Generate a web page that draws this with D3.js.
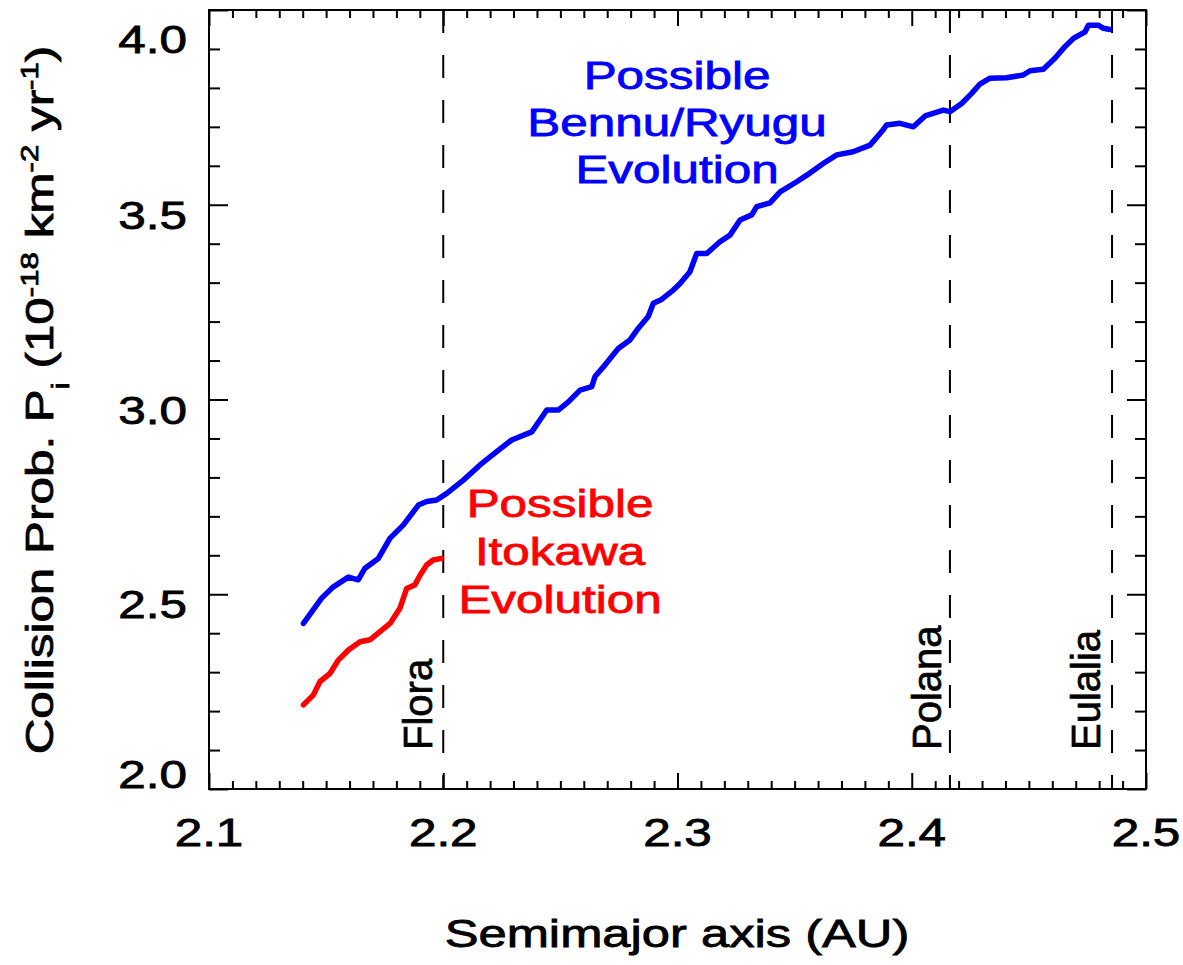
<!DOCTYPE html>
<html><head><meta charset="utf-8">
<script src="https://cdn.jsdelivr.net/npm/d3@7"></script>
<style>body{margin:0;background:#fff} svg{display:block}</style>
</head><body><svg id="c" width="1183" height="965"></svg>
<script>
// ---- data ----
const blueA = [2.1403,2.1481,2.1531,2.1595,2.1637,2.1666,2.1723,2.1773,2.1830,2.1894,2.1929,2.1972,2.2015,2.2086,2.2157,2.2228,2.2292,2.2378,2.2442,2.2491,2.2534,2.2584,2.2634,2.2648,2.2691,2.2747,2.2797,2.2833,2.2875,2.2897,2.2932,2.2982,2.3011,2.3053,2.3082,2.3125,2.3181,2.3224,2.3267,2.3317,2.3338,2.3395,2.3438,2.3509,2.3552,2.3622,2.3680,2.3750,2.3822,2.3872,2.3893,2.3950,2.4007,2.4057,2.4135,2.4163,2.4213,2.4256,2.4291,2.4334,2.4405,2.4476,2.4505,2.4562,2.4611,2.4654,2.4690,2.4740,2.4754,2.4796,2.4818,2.4846];
const blueP = [2.425,2.490,2.519,2.544,2.537,2.567,2.592,2.644,2.678,2.729,2.738,2.742,2.759,2.793,2.832,2.866,2.896,2.917,2.973,2.973,2.994,3.024,3.033,3.059,3.089,3.131,3.153,3.183,3.213,3.247,3.257,3.281,3.298,3.328,3.375,3.375,3.405,3.422,3.461,3.474,3.495,3.505,3.533,3.559,3.576,3.606,3.628,3.636,3.653,3.688,3.705,3.709,3.700,3.728,3.743,3.739,3.760,3.786,3.810,3.825,3.826,3.833,3.844,3.848,3.876,3.906,3.927,3.944,3.961,3.961,3.953,3.950];
const redA = [2.1403,2.1445,2.1474,2.1517,2.1552,2.1595,2.1645,2.1687,2.1730,2.1773,2.1815,2.1844,2.1879,2.1901,2.1929,2.1957,2.1993];
const redP = [2.216,2.241,2.276,2.297,2.331,2.357,2.378,2.383,2.404,2.425,2.464,2.515,2.524,2.549,2.575,2.588,2.592];
const xTicks = [2.1,2.2,2.3,2.4,2.5];
const xTickLabels = ["2.1","2.2","2.3","2.4","2.5"];
const yTicks = [2.0,2.5,3.0,3.5,4.0];
const yTickLabels = ["2.0","2.5","3.0","3.5","4.0"];
const familyNames = ["Flora","Polana","Eulalia"];
const familyA = [2.2,2.4163,2.4855];
const blueText = ["Possible","Bennu/Ryugu","Evolution"];
const redText = ["Possible","Itokawa","Evolution"];
const xTitle = "Semimajor axis (AU)";

// ---- layout ----
const L=209,R=1146,T=10,B=789;
const FONT="'Liberation Sans', Arial, Helvetica, sans-serif";
const SX=1.3;
const svg=d3.select("#c");
const x=d3.scaleLinear().domain([2.1,2.5]).range([L,R]);
const y=d3.scaleLinear().domain([2.0,4.0]).range([B,T]);

const xMinor=d3.range(210,251).map(d=>d/100).filter(d=>Math.abs(d*10-Math.round(d*10))>1e-6);
const yMinor=d3.range(20,41).map(d=>d/10).filter(d=>Math.abs(d*2-Math.round(d*2))>1e-6);

function styleAxis(g){g.select(".domain").remove();g.selectAll("line").attr("stroke","#000").attr("stroke-width",2);g.selectAll("text").remove();}
// bottom
svg.append("g").attr("transform",`translate(0,${B})`).call(d3.axisTop(x).tickValues(xMinor).tickSize(8)).call(styleAxis);
svg.append("g").attr("transform",`translate(0,${B})`).call(d3.axisTop(x).tickValues(xTicks).tickSize(16)).call(styleAxis);
// top
svg.append("g").attr("transform",`translate(0,${T})`).call(d3.axisBottom(x).tickValues(xMinor).tickSize(8)).call(styleAxis);
svg.append("g").attr("transform",`translate(0,${T})`).call(d3.axisBottom(x).tickValues(xTicks).tickSize(16)).call(styleAxis);
// left
svg.append("g").attr("transform",`translate(${L},0)`).call(d3.axisRight(y).tickValues(yMinor).tickSize(11)).call(styleAxis);
svg.append("g").attr("transform",`translate(${L},0)`).call(d3.axisRight(y).tickValues(yTicks).tickSize(19)).call(styleAxis);
// right
svg.append("g").attr("transform",`translate(${R},0)`).call(d3.axisLeft(y).tickValues(yMinor).tickSize(11)).call(styleAxis);
svg.append("g").attr("transform",`translate(${R},0)`).call(d3.axisLeft(y).tickValues(yTicks).tickSize(19)).call(styleAxis);

// frame
svg.append("rect").attr("x",L).attr("y",T).attr("width",R-L).attr("height",B-T)
  .attr("fill","none").attr("stroke","#000").attr("stroke-width",2);

// dashed family lines
svg.selectAll(".fam").data(familyA).join("line").attr("class","fam")
  .attr("x1",d=>x(d)).attr("x2",d=>x(d)).attr("y1",T).attr("y2",B)
  .attr("stroke","#000").attr("stroke-width",2).attr("stroke-dasharray","23 22");

// family labels
const famX=[432,941,1100];
svg.selectAll(".famlab").data(familyNames).join("text").attr("class","famlab")
  .attr("transform",(d,i)=>`translate(${famX[i]},750) rotate(-90)`)
  .attr("font-family",FONT).attr("font-size",40).attr("fill","#000")
  .attr("stroke","#000").attr("stroke-width",0.7).text(d=>d);

// lines
const line=d3.line().x(d=>x(d[0])).y(d=>y(d[1]));
svg.append("path").datum(blueA.map((a,i)=>[a,blueP[i]])).attr("d",line)
  .attr("fill","none").attr("stroke","#0000ff").attr("stroke-width",5.5).attr("stroke-linejoin","round").attr("stroke-linecap","round");
svg.append("path").datum(redA.map((a,i)=>[a,redP[i]])).attr("d",line)
  .attr("fill","none").attr("stroke","#ff0000").attr("stroke-width",5.5).attr("stroke-linejoin","round").attr("stroke-linecap","round");

// text helper
function heavy(sel,col){return sel.attr("font-family",FONT).attr("fill",col).attr("stroke",col).attr("stroke-width",0.8);}

// tick labels
heavy(svg.selectAll(".xl").data(xTicks).join("text").attr("class","xl")
  .attr("transform",d=>`translate(${x(d)},846) scale(${SX},1)`)
  .attr("text-anchor","middle").attr("font-size",38).text((d,i)=>xTickLabels[i]),"#000");
heavy(svg.selectAll(".yl").data(yTicks).join("text").attr("class","yl")
  .attr("transform",d=>`translate(187,${Math.max(T+43,Math.min(B-1,y(d)+24))}) scale(${SX},1)`)
  .attr("text-anchor","end").attr("font-size",38).text((d,i)=>yTickLabels[i]),"#000");

// x title
heavy(svg.append("text").attr("transform",`translate(677,947) scale(${SX},1)`).attr("text-anchor","middle")
  .attr("font-size",39).text(xTitle),"#000");

// y title
const yt=heavy(svg.append("text").attr("transform",`translate(53,400) rotate(-90) scale(${SX},1)`).attr("text-anchor","middle")
  .attr("font-size",38),"#000");
yt.append("tspan").text("Collision Prob. P");
yt.append("tspan").attr("font-size",24).attr("dy",16).text("i");
yt.append("tspan").attr("dy",-16).text(" (10");
yt.append("tspan").attr("font-size",24).attr("dy",-15).text("-18");
yt.append("tspan").attr("dy",15).text(" km");
yt.append("tspan").attr("font-size",24).attr("dy",-15).text("-2");
yt.append("tspan").attr("dy",15).text(" yr");
yt.append("tspan").attr("font-size",24).attr("dy",-15).text("-1");
yt.append("tspan").attr("dy",15).text(")");

// annotations
heavy(svg.selectAll(".bt").data(blueText).join("text").attr("class","bt")
  .attr("transform",(d,i)=>`translate(677,${89+i*47}) scale(${SX},1)`)
  .attr("text-anchor","middle").attr("font-size",38).text(d=>d),"#0000ff");
heavy(svg.selectAll(".rt").data(redText).join("text").attr("class","rt")
  .attr("transform",(d,i)=>`translate(560,${517+i*48}) scale(${SX},1)`)
  .attr("text-anchor","middle").attr("font-size",38).text(d=>d),"#ff0000");
</script></body></html>
